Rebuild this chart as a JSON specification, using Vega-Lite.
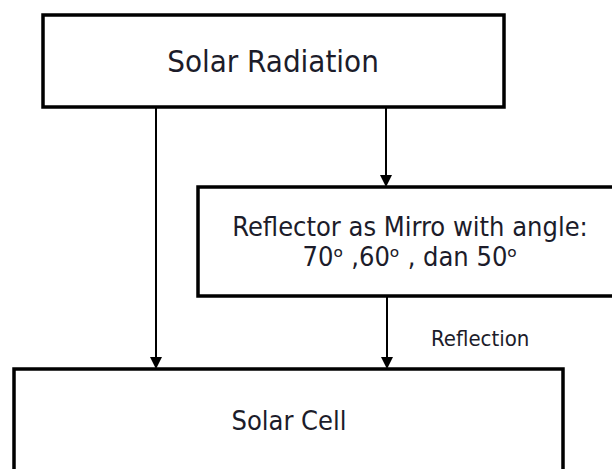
{
  "$schema": "https://vega.github.io/schema/vega-lite/v6.json",
  "width": 612,
  "height": 469,
  "autosize": {"type": "fit", "contains": "padding"},
  "padding": 0,
  "background": "white",
  "config": {"view": {"stroke": null}},
  "datasets": {
    "boxes": [
      {"name": "Solar Radiation", "x1": 43, "x2": 504, "y1": 15, "y2": 107},
      {"name": "Reflector", "x1": 198, "x2": 622, "y1": 187, "y2": 296},
      {"name": "Solar Cell", "x1": 14, "x2": 563, "y1": 369, "y2": 490}
    ],
    "arrows": [
      {"x": 156, "y1": 107, "y2": 363, "tip": 363},
      {"x": 386, "y1": 107, "y2": 181, "tip": 181},
      {"x": 387, "y1": 296, "y2": 363, "tip": 363}
    ],
    "labels": [
      {"text": "Solar Radiation", "x": 273, "y": 63, "size": 31},
      {"text": "Reflector as Mirro with angle:", "x": 410, "y": 228, "size": 27},
      {"text": "70ᵒ ,60ᵒ , dan 50ᵒ", "x": 410, "y": 258, "size": 27},
      {"text": "Solar Cell", "x": 289, "y": 422, "size": 27}
    ],
    "notes": [
      {"text": "Reflection", "x": 431, "y": 339, "size": 22}
    ]
  },
  "layer": [
    {
      "data": {"name": "boxes"},
      "mark": {"type": "rect", "fill": "white", "stroke": "black", "strokeWidth": 3.5, "clip": true},
      "encoding": {
        "x": {"field": "x1", "type": "quantitative", "scale": {"domain": [0, 612], "nice": false, "zero": false}, "axis": null},
        "x2": {"field": "x2"},
        "y": {"field": "y1", "type": "quantitative", "scale": {"domain": [0, 469], "reverse": true, "nice": false, "zero": false}, "axis": null},
        "y2": {"field": "y2"}
      }
    },
    {
      "data": {"name": "arrows"},
      "mark": {"type": "rule", "stroke": "black", "strokeWidth": 2},
      "encoding": {
        "x": {"field": "x", "type": "quantitative"},
        "y": {"field": "y1", "type": "quantitative"},
        "y2": {"field": "y2"}
      }
    },
    {
      "data": {"name": "arrows"},
      "mark": {"type": "point", "shape": "M-1,-1L1,-1L0,1Z", "filled": true, "fill": "black", "stroke": null, "size": 144, "opacity": 1},
      "encoding": {
        "x": {"field": "x", "type": "quantitative"},
        "y": {"field": "tip", "type": "quantitative"}
      }
    },
    {
      "data": {"name": "labels"},
      "mark": {"type": "text", "baseline": "middle", "align": "center", "font": "DejaVu Sans Condensed", "color": "#1c1c2a"},
      "encoding": {
        "x": {"field": "x", "type": "quantitative"},
        "y": {"field": "y", "type": "quantitative"},
        "text": {"field": "text"},
        "size": {"field": "size", "type": "quantitative", "scale": null}
      }
    },
    {
      "data": {"name": "notes"},
      "mark": {"type": "text", "baseline": "middle", "align": "left", "font": "DejaVu Sans Condensed", "color": "#1c1c2a"},
      "encoding": {
        "x": {"field": "x", "type": "quantitative"},
        "y": {"field": "y", "type": "quantitative"},
        "text": {"field": "text"},
        "size": {"field": "size", "type": "quantitative", "scale": null}
      }
    }
  ]
}
